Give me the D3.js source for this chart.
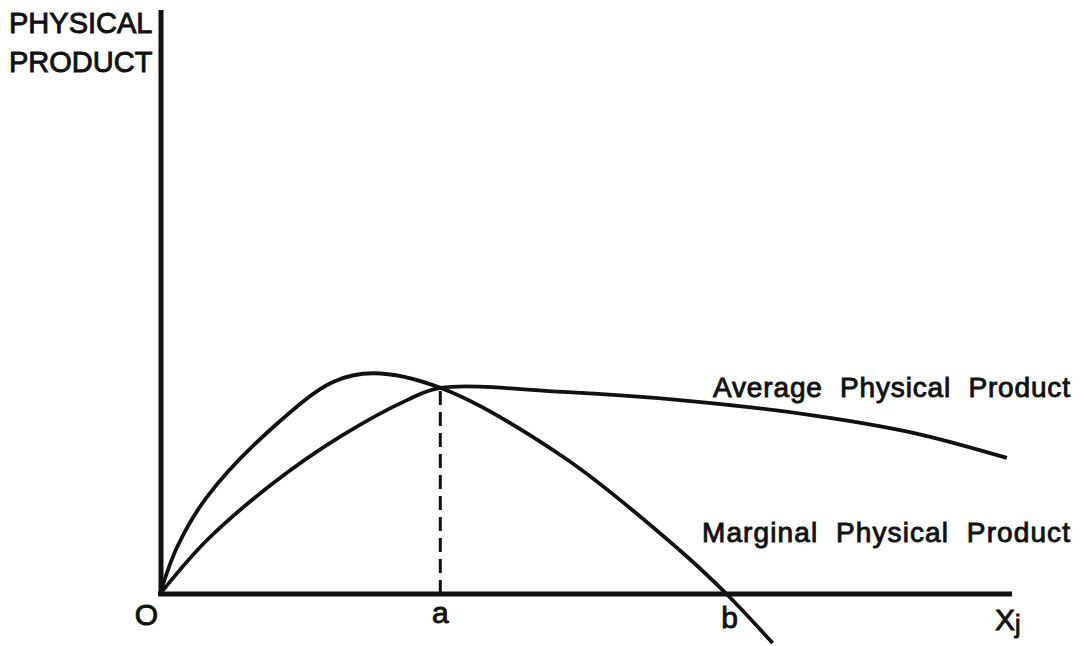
<!DOCTYPE html>
<html>
<head>
<meta charset="utf-8">
<script src="https://cdn.jsdelivr.net/npm/d3@7"></script>
<style>
  html, body { margin: 0; padding: 0; background: #fff; }
  svg { display: block; }
  text { font-family: "Liberation Sans", Arial, sans-serif; fill: #111; }
</style>
</head>
<body>
<svg id="chart" width="1087" height="646"></svg>
<script>
// ---- data (economic units) ----
const mppX = [0, 0.2, 0.55, 1.33, 2.03, 2.50, 3.29, 4.73, 6.10, 6.65, 7.19];
const mppY = [0, 0.80, 1.66, 2.86, 3.63, 3.78, 3.53, 2.35, 0.75, 0, -0.84];
const appX = [0, 0.55, 1.33, 2.11, 2.90, 3.29, 4.73, 6.10, 7.66, 8.84, 9.94];
const appY = [0, 0.92, 1.90, 2.69, 3.32, 3.53, 3.46, 3.32, 3.06, 2.76, 2.33];
const aValue = 3.29;      // where APP = MPP (APP max)
const aLevel = 3.53;
const bValue = 6.65;      // where MPP = 0
const tickValues = [0, aValue, bValue];
const tickLabels = ["O", "a", "b"];
const yTitle = ["PHYSICAL", "PRODUCT"];
const xTitle = "X";
const xTitleSub = "j";
const seriesLabels = ["Average  Physical  Product", "Marginal  Physical  Product"];

// ---- scales ----
const svg = d3.select("#chart");
const x = d3.scaleLinear().domain([0, 10]).range([160, 1012]);
const y = d3.scaleLinear().domain([0, 10]).range([594, 10]);

const line = d3.line().x(d => x(d[0])).y(d => y(d[1])).curve(d3.curveCatmullRom.alpha(0.5));

// axes
svg.append("line").attr("x1", x(0) + 1).attr("x2", x(0) + 1).attr("y1", y(0) + 2).attr("y2", y(10))
  .attr("stroke", "#111").attr("stroke-width", 5);
svg.append("line").attr("x1", x(0) - 2).attr("x2", x(10)).attr("y1", y(0)).attr("y2", y(0))
  .attr("stroke", "#111").attr("stroke-width", 5);

// dashed line at a
svg.append("line").attr("x1", x(aValue)).attr("x2", x(aValue)).attr("y1", y(0)).attr("y2", y(aLevel))
  .attr("stroke", "#111").attr("stroke-width", 3).attr("stroke-dasharray", "14,7");

// curves
svg.append("path").datum(mppX.map((v, i) => [v, mppY[i]]))
  .attr("d", line).attr("fill", "none").attr("stroke", "#111").attr("stroke-width", 3.8)
  .attr("stroke-linejoin", "round");
svg.append("path").datum(appX.map((v, i) => [v, appY[i]]))
  .attr("d", line).attr("fill", "none").attr("stroke", "#111").attr("stroke-width", 3.8)
  .attr("stroke-linejoin", "round");

// y-axis title
svg.selectAll("text.ytitle").data(yTitle).join("text")
  .attr("class", "ytitle").attr("x", 9).attr("y", (d, i) => 33 + i * 39)
  .attr("font-size", 29).attr("stroke", "#111").attr("stroke-width", 0.9)
  .text(d => d);

// tick labels
const tickAnchor = ["end", "middle", "middle"];
const tickDx = [-2, 0, 3];
const tickDy = [31, 29, 34];
svg.selectAll("text.tick").data(tickLabels).join("text")
  .attr("class", "tick")
  .attr("x", (d, i) => x(tickValues[i]) + tickDx[i])
  .attr("y", (d, i) => y(0) + tickDy[i])
  .attr("text-anchor", (d, i) => tickAnchor[i])
  .attr("font-size", 30).attr("stroke", "#111").attr("stroke-width", 0.9)
  .text(d => d);

// x title
const xt = svg.append("text").attr("x", x(10) - 17).attr("y", y(0) + 36)
  .attr("font-size", 30).attr("stroke", "#111").attr("stroke-width", 0.9);
xt.append("tspan").text(xTitle);
xt.append("tspan").attr("font-size", 25).attr("dy", 3).text(xTitleSub);

// series labels
const labelPos = [[713, 397, 357], [702, 542, 368]];
svg.selectAll("text.series").data(seriesLabels).join("text")
  .attr("class", "series")
  .attr("x", (d, i) => labelPos[i][0]).attr("y", (d, i) => labelPos[i][1])
  .attr("font-size", 28).attr("stroke", "#111").attr("stroke-width", 0.9)
  .attr("textLength", (d, i) => labelPos[i][2]).attr("lengthAdjust", "spacing")
  .style("white-space", "pre")
  .text(d => d);
</script>
</body>
</html>
